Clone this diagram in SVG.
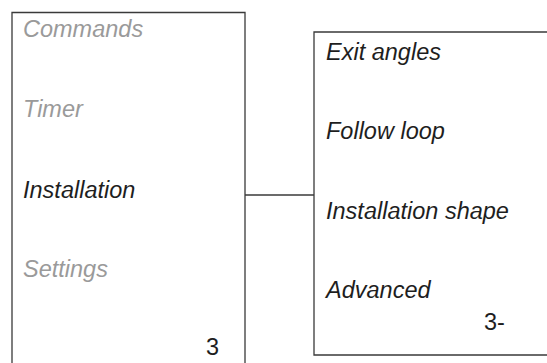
<svg xmlns="http://www.w3.org/2000/svg" width="547" height="363" viewBox="0 0 547 363">
<style>
.box{fill:#fff;stroke:#3a3a3a;stroke-width:1.3}
.t{font-family:"Liberation Sans",Arial,sans-serif;font-size:23.5px;font-style:italic}
.g{fill:#9a9a9a}
.d{fill:#1e1e1e}
.n{font-family:"Liberation Sans",Arial,sans-serif;font-size:23.5px;fill:#1e1e1e}
.c{stroke:#3a3a3a;stroke-width:1.3;fill:none}
</style>
<rect width="547" height="363" fill="#fff"/>
<g id="connectors">
<line class="c" x1="245" y1="195" x2="314" y2="195"/>
</g>
<g id="menu-main">
<path class="box" d="M12 370 V12.5 H245 V370"/>
<text class="t g" x="23" y="37">Commands</text>
<text class="t g" x="23" y="117">Timer</text>
<text class="t d" x="23" y="198">Installation</text>
<text class="t g" x="23" y="277">Settings</text>
<text class="n" x="206" y="355">3</text>
</g>
<g id="menu-installation">
<path class="box" d="M560 32 H314 V355 H560"/>
<text class="t d" x="326" y="60">Exit angles</text>
<text class="t d" x="326" y="139">Follow loop</text>
<text class="t d" x="326" y="218.5">Installation shape</text>
<text class="t d" x="326" y="297.5">Advanced</text>
<text class="n" x="484" y="330">3-</text>
</g>
</svg>
